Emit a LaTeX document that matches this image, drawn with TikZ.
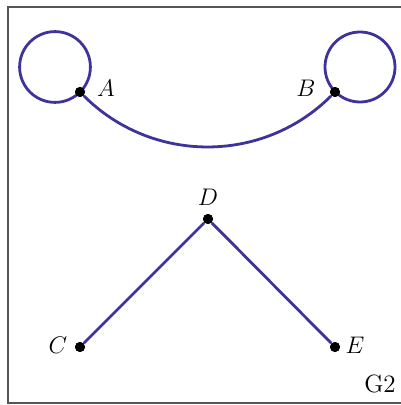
\documentclass[tikz,border=0pt]{standalone}
\usetikzlibrary{calc}
\begin{document}
\begin{tikzpicture}[x=0.5pt,y=-0.5pt,
  vert/.style={circle,fill=black,inner sep=0pt,minimum size=5pt},
  edgeline/.style={draw=edgeblue,line width=1.4pt},
  lbl/.style={font=\fontsize{12.5}{15}\selectfont,inner sep=0pt}]
\definecolor{edgeblue}{RGB}{62,50,155}
\definecolor{framegray}{RGB}{85,85,85}
\useasboundingbox (0,0) rectangle (400,405);
\draw[framegray,line width=1pt] (402,7) -- (8,7) -- (8,403) -- (402,403);
% vertices
\node[vert] (A) at (80,92) {};
\node[vert] (B) at (335,92) {};
\node[vert] (D) at (208,219) {};
\node[vert] (C) at (80,347) {};
\node[vert] (E) at (335,347) {};
% loops
\draw[edgeline] ($(A)+(-25,-25)$) circle[radius=17.7pt];
\draw[edgeline] ($(B)+(25,-25)$) circle[radius=17.5pt];
% edges
\draw[edgeline] (A) to[out=-45,in=-135] (B);
\draw[edgeline] (C) -- (D);
\draw[edgeline] (D) -- (E);
\node[vert] at (A) {};
\node[vert] at (B) {};
\node[vert] at (C) {};
\node[vert] at (D) {};
\node[vert] at (E) {};
% labels
\node[lbl] (lA) at (106,88) {$A$};
\node[lbl] (lB) at (306,88) {$B$};
\node[lbl] (lD) at (208,197) {$D$};
\node[lbl] (lC) at (58,345) {$C$};
\node[lbl] (lE) at (355,345) {$E$};
\node[lbl] (g2) at (380,384) {G2};
\end{tikzpicture}
\end{document}
